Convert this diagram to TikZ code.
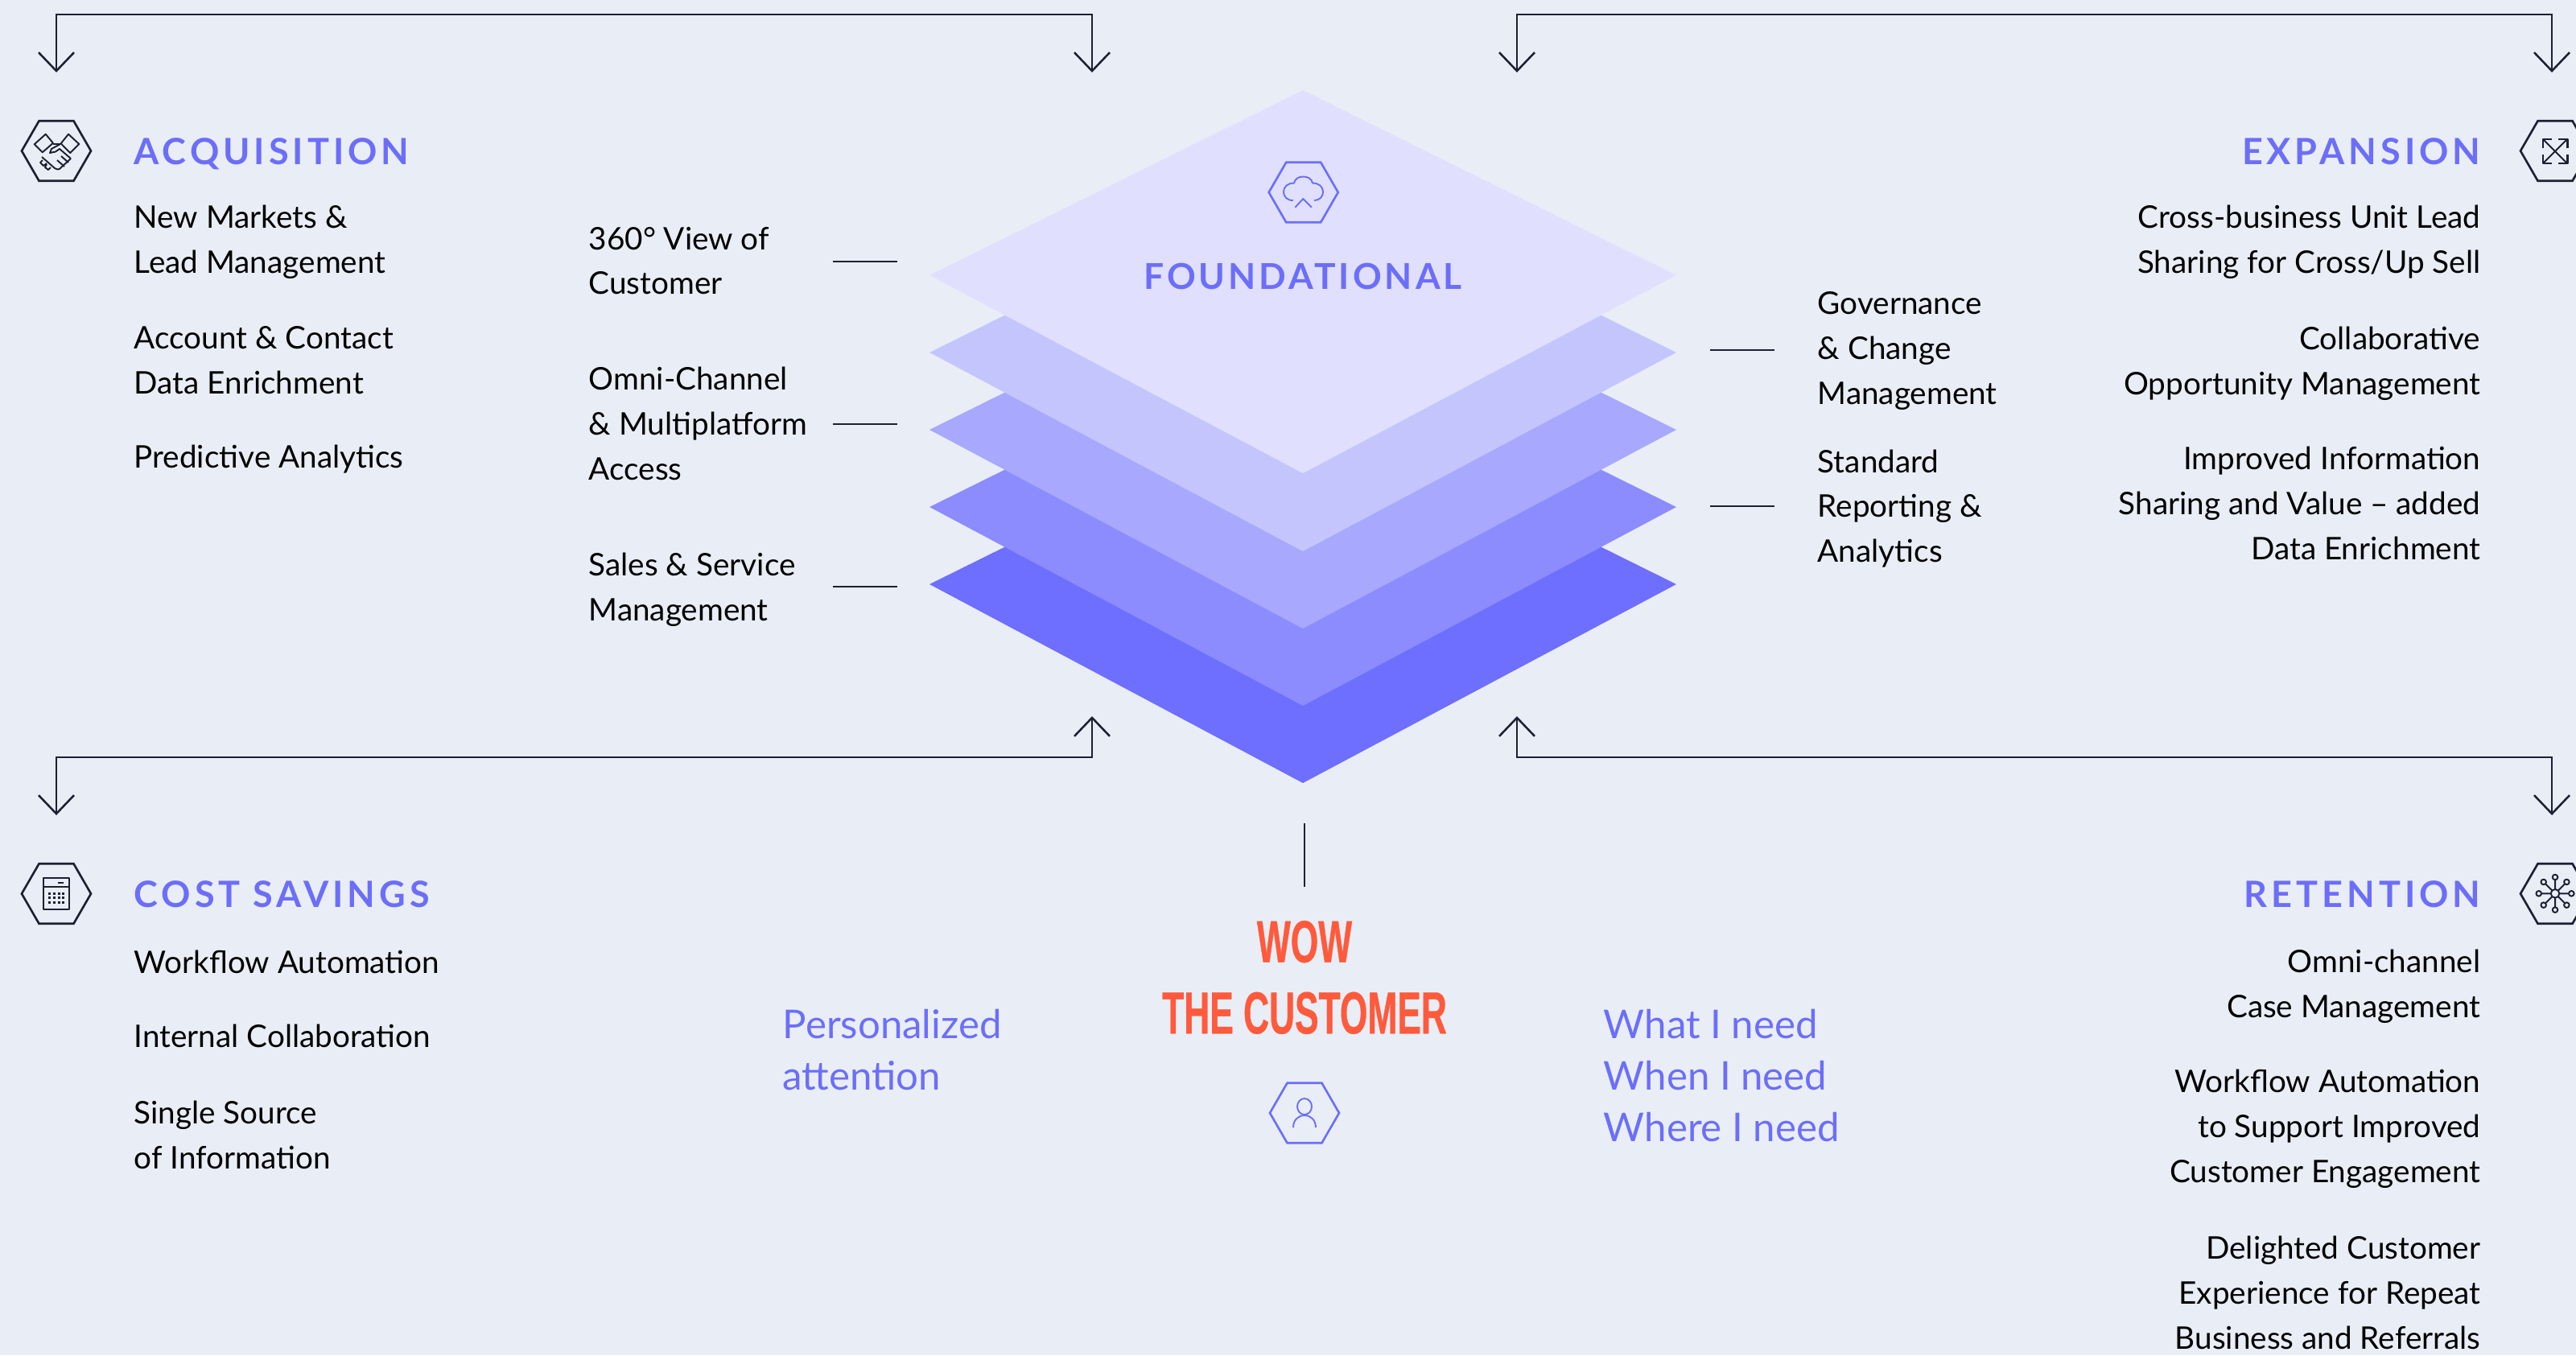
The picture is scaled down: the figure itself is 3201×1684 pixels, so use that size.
\documentclass[tikz,border=0pt]{standalone}
\usepackage{fontspec}
\usetikzlibrary{arrows.meta, shapes.geometric}
\setmainfont{Lato}
\newfontfamily\headfont[LetterSpace=11]{Lato}
\newfontfamily\foundfont[LetterSpace=9]{Lato}
\newfontfamily\wowfont[FakeStretch=0.6,BoldFeatures={FakeBold=0.5}]{Liberation Sans}
\definecolor{paper}{RGB}{233,238,246}
\definecolor{ink}{RGB}{28,32,50}
\definecolor{accent}{RGB}{108,110,250}
\definecolor{wow}{RGB}{255,90,60}
\definecolor{layerA}{RGB}{224,224,254}
\definecolor{layerB}{RGB}{197,197,254}
\definecolor{layerC}{RGB}{168,168,254}
\definecolor{layerD}{RGB}{140,140,255}
\definecolor{layerE}{RGB}{110,110,255}
\tikzset{
  heading/.style={font=\headfont\fontsize{12.8}{15}\selectfont\bfseries, text=accent, inner sep=0pt},
  item/.style={font=\fontsize{11}{15.9}\selectfont, text=black, inner sep=0pt},
  itemleft/.style={item, anchor=west, align=left},
  itemright/.style={item, anchor=east, align=right},
  bluetext/.style={font=\fontsize{14}{18.2}\selectfont, text=accent, inner sep=0pt, anchor=west, align=left},
  hexicon/.style={draw=#1, regular polygon, regular polygon sides=6, minimum size=.86cm, inner sep=0pt, outer sep=0pt, line width=.75pt},
  glyph/.style={draw=#1, line width=.55pt, line join=round},
  flow/.style={draw=ink, line width=.72pt, >={Straight Barb[length=2.3mm,width=4.4mm]}},
  leader/.style={draw=ink, line width=.72pt},
}

\begin{document}
\begin{tikzpicture}[x=0.01cm, y=-0.01cm]
        \useasboundingbox (0,0) rectangle (3201,1684);
        \clip (0,0) rectangle (3201,1684);
        \fill[paper] (0,0) rectangle (3201,1684);

        % Capas del rombo central
        \fill[layerE] (1155,726) -- (1619,496) -- (2083,726) -- (1619,973) -- cycle;
        \fill[layerD] (1155,630) -- (1619,400) -- (2083,630) -- (1619,877) -- cycle;
        \fill[layerC] (1155,534) -- (1619,304) -- (2083,534) -- (1619,781) -- cycle;
        \fill[layerB] (1155,438) -- (1619,208) -- (2083,438) -- (1619,685) -- cycle;
        \fill[layerA] (1155,342) -- (1619,112) -- (2083,342) -- (1619,588) -- cycle;

        \node[hexicon=accent] (cloudhex) at (1619.7,239) {};
        \draw[glyph=accent] (1606.7,249) .. controls (1599,249) and (1595,244) .. (1595,238.5)
            .. controls (1595,232) and (1600,227.5) .. (1608,227.5)
            .. controls (1609,222) and (1614,219.5) .. (1619.5,219.5)
            .. controls (1625,219.5) and (1630,222) .. (1631,227.5)
            .. controls (1639,227.5) and (1644,232) .. (1644,238.5)
            .. controls (1644,244) and (1640,249) .. (1633,249);
        \draw[glyph=accent] (1609.3,257.7) -- (1619.3,247) -- (1630,257.7);
        \node[heading, font=\foundfont\fontsize{12.6}{15}\selectfont\bfseries] (found) at (1619,343) {FOUNDATIONAL};

        % Flechas en escuadra
        \coordinate (acqstart) at (70,90);
        \coordinate (acqbendl) at (70,18);
        \coordinate (acqbendr) at (1357,18);
        \coordinate (acqend) at (1357,90);
        \draw[flow, <->] (acqstart) -- (acqbendl) -- (acqbendr) -- (acqend);

        \coordinate (expstart) at (1885,90);
        \coordinate (expbendl) at (1885,18);
        \coordinate (expbendr) at (3171,18);
        \coordinate (expend) at (3171,90);
        \draw[flow, <->] (expstart) -- (expbendl) -- (expbendr) -- (expend);

        \coordinate (coststart) at (70,1013);
        \coordinate (costbendl) at (70,941);
        \coordinate (costbendr) at (1357,941);
        \coordinate (costend) at (1357,890);
        \draw[flow, <->] (coststart) -- (costbendl) -- (costbendr) -- (costend);

        \coordinate (retstart) at (1885,890);
        \coordinate (retbendl) at (1885,941);
        \coordinate (retbendr) at (3171,941);
        \coordinate (retend) at (3171,1013);
        \draw[flow, <->] (retstart) -- (retbendl) -- (retbendr) -- (retend);

        % Acquisition
        \node[hexicon=ink] (acqhex) at (70,187.5) {};
        \draw[glyph=ink] (42.7,179.3) -- (56.7,166.7) -- (66,177.7) -- (52.7,189.3) -- cycle;
        \draw[glyph=ink] (75.7,178.3) -- (85,166.7) -- (98.3,179) -- (87.3,190) -- cycle;
        \draw[glyph=ink] (66,179) -- (75,179) -- (64,185) -- (62,190) -- (69,188.5) -- (74,185) -- (88,197);
        \draw[glyph=ink] (52,195) -- (68,209) .. controls (71,211) and (74,211) .. (76,208) -- (88,197);
        \draw[glyph=ink] (53,199) -- (50,202) -- (54,206) -- (58,203) (58,204) -- (56,208) -- (60,211) -- (63,208);
        \draw[glyph=ink] (71,199) -- (80,207) (76,194) -- (85,202);
        \node[heading, anchor=west] (acq) at (166,191) {ACQUISITION};
        \node[itemleft] (acqa) at (166,301) {New Markets \&\\Lead Management};
        \node[itemleft] (acqb) at (166,448) {Account \& Contact\\Data Enrichment};
        \node[itemleft] (acqc) at (166,571) {Predictive Analytics};

        % Expansion
        \node[hexicon=ink] (exphex) at (3175,187.5) {};
        \draw[glyph=ink] (3160,173) -- (3190,203) (3190,173) -- (3160,203);
        \draw[glyph=ink, line width=.75pt] (3160,184) -- (3160,173) -- (3171,173) (3179,173) -- (3190.5,173) -- (3190.5,184)
            (3190.5,192) -- (3190.5,203) -- (3179,203) (3171,203) -- (3160,203) -- (3160,192);
        \node[heading, anchor=east] (exp) at (3083,188) {EXPANSION};
        \node[itemright] (expa) at (3083,301) {Cross-business Unit Lead\\Sharing for Cross/Up Sell};
        \node[itemright] (expb) at (3083,452) {Collaborative\\Opportunity Management};
        \node[itemright] (expc) at (3083,625) {Improved Information\\Sharing and Value – added\\Data Enrichment};

        % Cost savings
        \node[hexicon=ink] (costhex) at (70,1110.5) {};
        \draw[glyph=ink, line width=.65pt] (54.3,1091) rectangle (86.3,1130);
        \draw[glyph=ink] (54.3,1102) -- (86.3,1102);
        \draw[glyph=ink, line width=.65pt] (72,1097.3) -- (79.3,1097.3);
        \draw[ink, line width=.85pt, dash pattern=on .85pt off .75pt]
            (60.3,1110.5) -- (81,1110.5) (60.3,1115.8) -- (81,1115.8) (60.3,1121) -- (81,1121);
        \node[heading, anchor=west] (cost) at (166,1111) {COST SAVINGS};
        \node[itemleft] (costa) at (166,1195) {Workflow Automation};
        \node[itemleft] (costb) at (166,1287) {Internal Collaboration};
        \node[itemleft] (costc) at (166,1410) {Single Source\\of Information};

        % Retention
        \node[hexicon=ink] (rethex) at (3175,1110.5) {};
        \draw[glyph=ink] (3175,1110.3) circle (5.3);
        \draw[glyph=ink] (3175,1110.3) +(0:5.3) -- +(0:17) +(45:5.3) -- +(45:17) +(90:5.3) -- +(90:17) +(135:5.3) -- +(135:17)
            +(180:5.3) -- +(180:17) +(225:5.3) -- +(225:17) +(270:5.3) -- +(270:17) +(315:5.3) -- +(315:17);
        \draw[glyph=ink] (3175,1110.3) +(0:20.3) circle (3.3) +(45:20.3) circle (3.3) +(90:20.3) circle (3.3) +(135:20.3) circle (3.3)
            +(180:20.3) circle (3.3) +(225:20.3) circle (3.3) +(270:20.3) circle (3.3) +(315:20.3) circle (3.3);
        \node[heading, anchor=east] (ret) at (3083,1111) {RETENTION};
        \node[itemright] (reta) at (3083,1226) {Omni-channel\\Case Management};
        \node[itemright] (retb) at (3083,1403) {Workflow Automation\\to Support Improved\\Customer Engagement};
        \node[itemright] (retc) at (3083,1606) {Delighted Customer\\Experience for Repeat\\Business and Referrals};

        % Columnas junto al rombo
        \node[itemleft] (lefta) at (731,324) {360° View of\\Customer};
        \node[itemleft] (leftb) at (731,526) {Omni-Channel\\\& Multiplatform\\Access};
        \node[itemleft] (leftc) at (731,733) {Sales \& Service\\Management};
        \node[itemleft] (righta) at (2258,436) {Governance\\\& Change\\Management};
        \node[itemleft] (rightb) at (2258,632) {Standard\\Reporting \&\\Analytics};

        \coordinate (leada) at (1035,325);
        \coordinate (leadaend) at (1115,325);
        \draw[leader] (leada) -- (leadaend);
        \coordinate (leadb) at (1035,527);
        \coordinate (leadbend) at (1115,527);
        \draw[leader] (leadb) -- (leadbend);
        \coordinate (leadc) at (1035,729);
        \coordinate (leadcend) at (1115,729);
        \draw[leader] (leadc) -- (leadcend);
        \coordinate (leadd) at (2125,435);
        \coordinate (leaddend) at (2205,435);
        \draw[leader] (leadd) -- (leaddend);
        \coordinate (leade) at (2125,629);
        \coordinate (leadeend) at (2205,629);
        \draw[leader] (leade) -- (leadeend);

        % Wow the customer
        \coordinate (stemtop) at (1621,1023);
        \coordinate (stemend) at (1621,1102);
        \draw[leader] (stemtop) -- (stemend);
        \node[font=\wowfont\fontsize{21}{25.2}\selectfont\bfseries, text=wow, align=center, inner sep=0pt] (wownode) at (1621,1214.5) {WOW\\THE CUSTOMER};
        \node[hexicon=accent] (personhex) at (1621,1383) {};
        \draw[glyph=accent] (1621,1375) ellipse (9 and 10);
        \draw[glyph=accent] (1607,1401) .. controls (1607,1392) and (1613,1386) .. (1621,1386)
            .. controls (1629,1386) and (1635,1392) .. (1635,1401);
        \node[bluetext] (personal) at (972,1305) {Personalized\\attention};
        \node[bluetext] (needs) at (1992,1337) {What I need\\When I need\\Where I need};
    \end{tikzpicture}
\end{document}
